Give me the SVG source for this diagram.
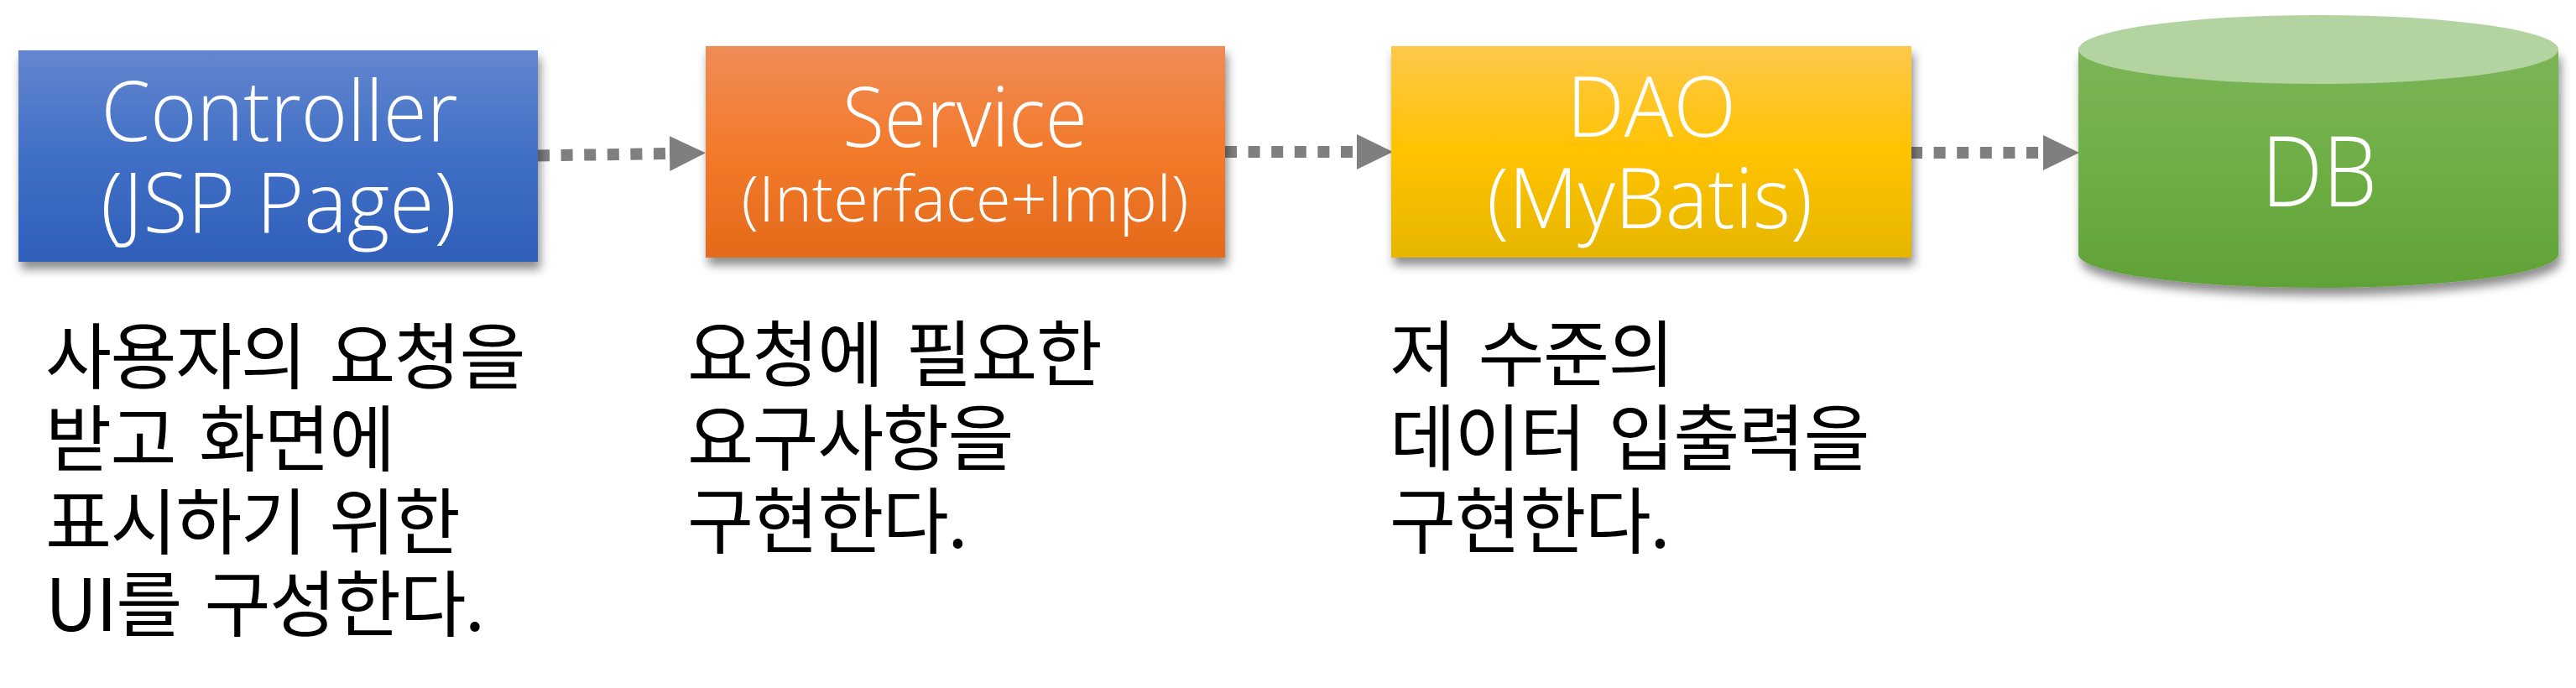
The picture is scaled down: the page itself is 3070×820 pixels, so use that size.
<svg xmlns="http://www.w3.org/2000/svg" width="3070" height="820" viewBox="0 0 3070 820">
<style>
.lbl{font-family:"Open Sans","Noto Sans CJK KR",sans-serif;font-weight:300;fill:#fff;text-anchor:middle}
.big{font-size:100px}
.mid{font-size:75px}
.desc{font-family:"Noto Sans CJK KR",sans-serif;font-size:86px;letter-spacing:-1.5px;word-spacing:10px;fill:#000}
.conn{stroke:#7f7f7f;stroke-width:14;stroke-dasharray:14 13.6;fill:none}
</style>
<defs>
<linearGradient id="gBlue" x1="0" y1="0" x2="0" y2="1">
<stop offset="0" stop-color="#6386CE"/><stop offset="0.5" stop-color="#416FC6"/><stop offset="1" stop-color="#2F5FBA"/>
</linearGradient>
<linearGradient id="gOrange" x1="0" y1="0" x2="0" y2="1">
<stop offset="0" stop-color="#F08C57"/><stop offset="0.5" stop-color="#F27A2A"/><stop offset="1" stop-color="#E46A1B"/>
</linearGradient>
<linearGradient id="gYellow" x1="0" y1="0" x2="0" y2="1">
<stop offset="0" stop-color="#FFC84B"/><stop offset="0.5" stop-color="#FFC300"/><stop offset="1" stop-color="#E6B600"/>
</linearGradient>
<linearGradient id="gGreen" x1="0" y1="0" x2="0" y2="1">
<stop offset="0" stop-color="#7BB557"/><stop offset="0.5" stop-color="#6EAE44"/><stop offset="1" stop-color="#60A236"/>
</linearGradient>
<filter id="sh" x="-10%" y="-10%" width="120%" height="130%">
<feDropShadow dx="3" dy="9" stdDeviation="6" flood-color="#000" flood-opacity="0.45"/>
</filter>
<marker id="arr" markerUnits="userSpaceOnUse" markerWidth="44" markerHeight="44" refX="0" refY="21" orient="auto">
<path d="M0,0 L43,21 L0,42 Z" fill="#7f7f7f"/>
</marker>
</defs>

<g id="connectors">
<line class="conn" x1="641" y1="185.5" x2="798" y2="183" marker-end="url(#arr)"/>
<line class="conn" x1="1460" y1="181" x2="1617" y2="181" marker-end="url(#arr)"/>
<line class="conn" x1="2277" y1="182" x2="2435" y2="182" marker-end="url(#arr)"/>
</g>

<g id="controller">
<rect x="22" y="60" width="619" height="252" fill="url(#gBlue)" filter="url(#sh)"/>
<text class="lbl big" x="333" y="168" textLength="425" lengthAdjust="spacingAndGlyphs">Controller</text>
<text class="lbl big" x="332" y="277" textLength="424" lengthAdjust="spacingAndGlyphs">(JSP Page)</text>
</g>

<g id="service">
<rect x="841" y="55" width="619" height="252" fill="url(#gOrange)" filter="url(#sh)"/>
<text class="lbl big" x="1150" y="175" textLength="292" lengthAdjust="spacingAndGlyphs">Service</text>
<text class="lbl mid" x="1150" y="264" textLength="533" lengthAdjust="spacingAndGlyphs">(Interface+Impl)</text>
</g>

<g id="dao">
<rect x="1658" y="55" width="620" height="252" fill="url(#gYellow)" filter="url(#sh)"/>
<text class="lbl big" x="1968" y="163" textLength="202" lengthAdjust="spacingAndGlyphs">DAO</text>
<text class="lbl big" x="1966" y="272" textLength="388" lengthAdjust="spacingAndGlyphs">(MyBatis)</text>
</g>

<g id="db">
<path d="M2477,59 L2477,303 A286,40 0 0 0 3049,303 L3049,59 Z" fill="url(#gGreen)" filter="url(#sh)"/>
<ellipse cx="2763" cy="59" rx="286" ry="41" fill="#B3D4A0"/>
<text class="lbl" style="font-size:116px" x="2764" y="246" textLength="138" lengthAdjust="spacingAndGlyphs">DB</text>
</g>

<g id="desc-controller">
<text class="desc" x="54" y="457">사용자의 요청을</text>
<text class="desc" x="54" y="555">받고 화면에</text>
<text class="desc" x="54" y="654">표시하기 위한</text>
<text class="desc" x="54" y="752">UI를 구성한다.</text>
</g>
<g id="desc-service">
<text class="desc" x="819" y="454">요청에 필요한</text>
<text class="desc" x="819" y="554">요구사항을</text>
<text class="desc" x="819" y="653">구현한다.</text>
</g>
<g id="desc-dao">
<text class="desc" x="1656" y="454">저 수준의</text>
<text class="desc" x="1656" y="554">데이터 입출력을</text>
<text class="desc" x="1656" y="653">구현한다.</text>
</g>
</svg>
